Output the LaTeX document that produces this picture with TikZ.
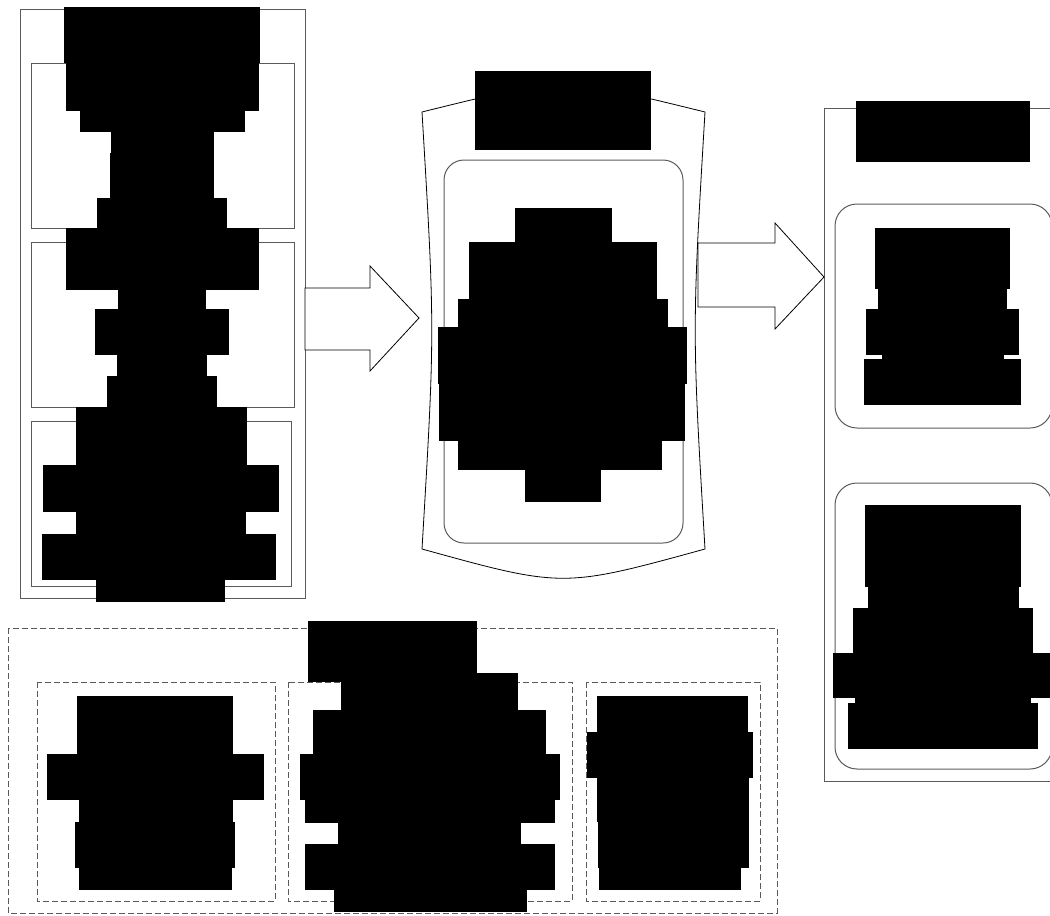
\documentclass[tikz,border=0pt]{standalone}
\usetikzlibrary{positioning}
\definecolor{FrameGray}{HTML}{5A5A5A}

\tikzset{
  frame/.style={draw=FrameGray, line width=1pt},
  roundframe/.style={frame, rounded corners=22pt},
  dashframe/.style={draw=FrameGray, line width=1pt, dash pattern=on 6pt off 3pt},
  blockarrow/.style={draw=black, line width=0.8pt, fill=white, line join=miter},
  redact/.style={fill=black},
}

% one redacted text block = a stack of black bars (x1/y1/x2/y2)
\newcommand{\redactblock}[1]{%
  \foreach \xa/\ya/\xb/\yb in {#1}
    \fill[redact] (\xa,\ya) rectangle (\xb,\yb);}

\begin{document}
\begin{tikzpicture}[x=1pt, y=-1pt]
\useasboundingbox (0,0) rectangle (1050,916);
\clip (0,0) rectangle (1050,916);

% left column
\draw[frame] (20,9) rectangle (305,598);
\draw[frame] (31,63) rectangle (294,228);
\draw[frame] (31,242) rectangle (294,407);
\draw[frame] (31,421) rectangle (291,586);

% middle panel
\draw[draw=black, line width=0.8pt]
  (422,112) .. controls (563,77) .. (705,112)
  .. controls (692,330) .. (705,549)
  .. controls (563,588) .. (422,549)
  .. controls (435,330) .. (422,112) -- cycle;
\draw[roundframe, rounded corners=20pt] (444,160) rectangle (683,543);

% right column
\draw[frame] (824,108) rectangle (1070,781);
\draw[roundframe] (835,204) rectangle (1052,428);
\draw[roundframe] (835,483) rectangle (1052,769);

% bottom group
\draw[dashframe] (8,628) rectangle (777,913);
\draw[dashframe] (37,682) rectangle (275,901);
\draw[dashframe] (288,682) rectangle (572,901);
\draw[dashframe] (586,682) rectangle (760,901);

% block arrows
\draw[blockarrow] (305,288) -- (370,288) -- (370,266) -- (419,318)
  -- (370,371) -- (370,350) -- (305,350) -- cycle;
\draw[blockarrow] (698,243) -- (775,243) -- (775,223) -- (824,277)
  -- (775,329) -- (775,307) -- (698,307) -- cycle;

% redacted texts
\redactblock{64/7/260/63, 66/63/259/111, 80/111/245/132, 111/132/214/153,
  110/153/214/198, 97/198/227/228, 66/228/259/290, 118/290/206/309,
  95/309/229/355, 117/355/207/376, 107/376/217/407, 76/407/247/465,
  43/465/279/512, 76/512/246/534, 42/534/276/580, 96/580/225/602}
\redactblock{475/71/651/150}
\redactblock{515/208/612/242, 469/242/657/299, 458/299/668/327,
  438/327/687/384, 439/384/685/441, 458/441/662/470, 525/470/601/502}
\redactblock{856/101/1030/162}
\redactblock{875/228/1010/289, 878/289/1007/309, 866/309/1019/355,
  882/355/1004/359, 864/359/1021/405}
\redactblock{865/505/1021/587, 868/587/1019/608, 853/608/1033/653,
  833/653/1060/698, 855/698/1031/703, 848/703/1038/749}
\redactblock{308/621/477/673, 308/673/518/682, 341/682/518/710,
  313/710/546/754, 300/754/560/800, 305/800/555/823, 338/823/521/844,
  305/844/555/890, 334/890/527/912}
\redactblock{77/696/233/754, 47/754/264/800, 79/800/233/822,
  75/822/235/868, 79/868/232/890}
\redactblock{597/696/748/732, 587/732/753/778, 597/778/749/822,
  598/822/749/868, 599/868/741/890}
\end{tikzpicture}
\end{document}
